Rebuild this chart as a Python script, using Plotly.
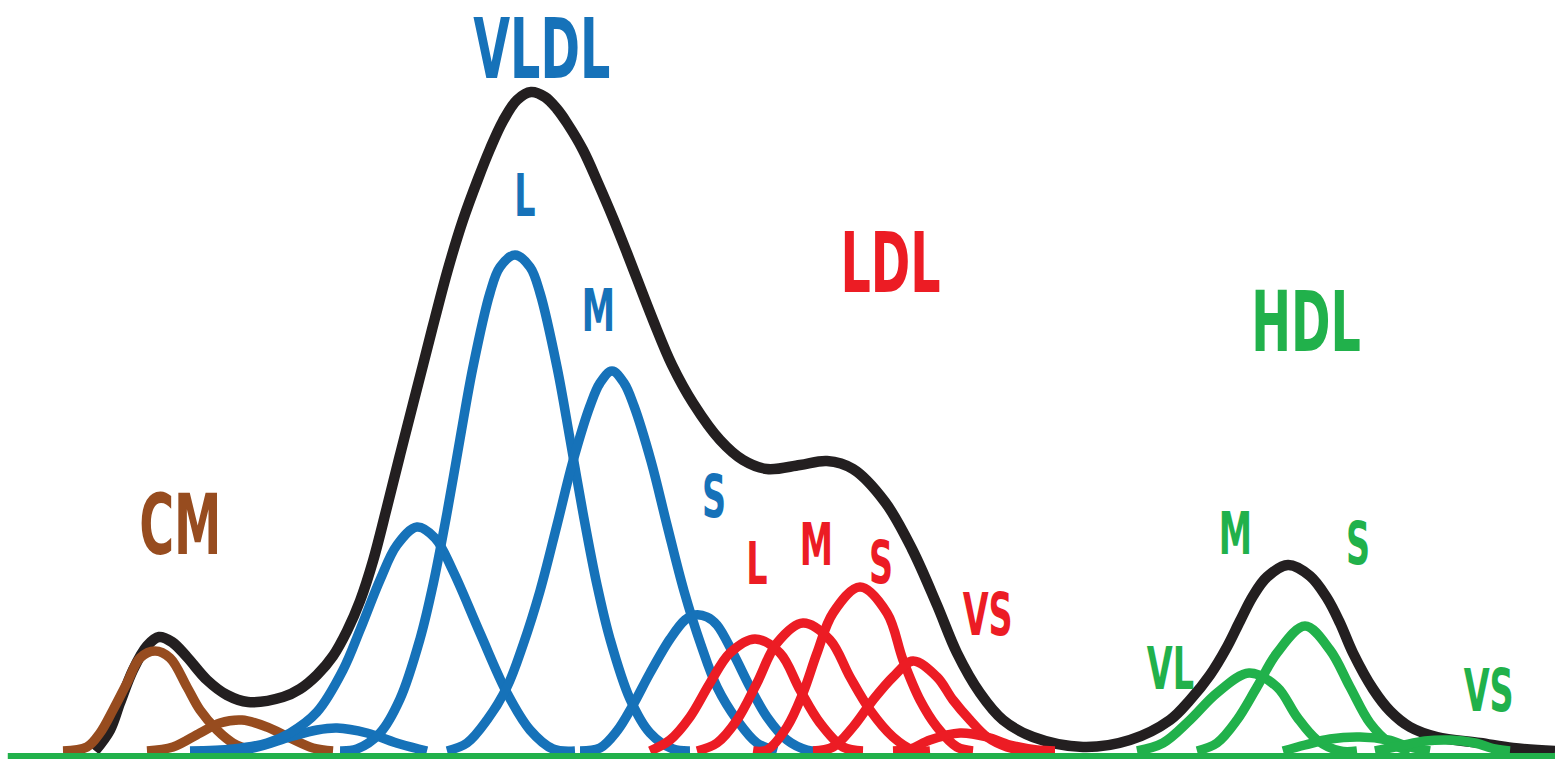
import plotly.graph_objects as go

# ---- data: elution position (x) and signal height (y) ----
total_x = [95, 110, 120, 133, 147, 159, 172, 187, 207, 227, 248, 283, 300, 317, 333, 347, 360, 373, 387, 400,
           413, 423, 435, 448, 463, 478, 490, 503, 517, 531, 545, 557, 567, 583, 598, 613, 627, 653, 672, 693,
           720, 743, 767, 800, 827, 853, 885, 912, 937, 957, 980, 1003, 1033, 1083, 1130, 1170, 1190, 1210,
           1227, 1240, 1253, 1267, 1288, 1310, 1327, 1340, 1353, 1373, 1390, 1410, 1437, 1480, 1513, 1555]
total_y = [0, 21, 48, 81, 105, 114, 109, 94, 71, 56, 49, 54, 62, 76, 95, 120, 150, 190, 244, 296,
           347, 386, 433, 482, 531, 572, 602, 630, 651, 659, 654, 642, 628, 601, 568, 533, 498, 431, 386, 348,
           311, 291, 282, 286, 290, 282, 249, 202, 146, 98, 58, 31, 14, 4, 11, 31, 51, 76,
           104, 130, 155, 174, 186, 175, 153, 128, 98, 62, 40, 24, 14, 8, 3, 0]

cm1_x = [63, 87, 100, 113, 127, 140, 155, 170, 187, 200, 217, 233, 253]
cm1_y = [0, 4, 18, 41, 68, 93, 100, 93, 64, 41, 21, 8, 0]
cm2_x = [147, 173, 200, 220, 242, 267, 290, 313, 333]
cm2_y = [0, 4, 18, 28, 31, 24, 13, 3, 0]

vldl_vl_small_x = [200, 253, 290, 317, 337, 367, 400, 427]
vldl_vl_small_y = [0, 3, 14, 21, 23, 18, 7, 0]
vldl_vl_x = [190, 233, 267, 290, 317, 343, 360, 380, 397, 417, 435, 453, 480, 507, 530, 553, 575]
vldl_vl_y = [0, 2, 8, 18, 39, 81, 121, 171, 206, 224, 213, 180, 118, 58, 21, 2, 0]
vldl_l_x = [340, 357, 380, 400, 420, 433, 447, 460, 473, 490, 500, 515, 530, 540, 557, 570, 583, 597,
            610, 630, 650, 673, 690]
vldl_l_y = [0, 2, 18, 52, 112, 166, 238, 312, 384, 458, 484, 496, 484, 458, 384, 312, 238, 166,
            112, 52, 18, 2, 0]
vldl_m_x = [447, 467, 487, 507, 523, 540, 557, 573, 590, 600, 612, 624, 634, 651, 667, 684, 701, 717,
            737, 757, 777]
vldl_m_y = [0, 8, 31, 64, 106, 160, 226, 290, 345, 368, 380, 368, 345, 290, 226, 160, 106, 64,
            31, 8, 0]
vldl_s_x = [580, 600, 617, 633, 650, 670, 685, 695, 707, 717, 733, 750, 767, 787, 807, 820]
vldl_s_y = [0, 3, 20, 46, 78, 112, 131, 136, 134, 126, 98, 64, 34, 11, 1, 0]

ldl_l_x = [650, 670, 690, 710, 730, 755, 780, 800, 820, 843, 863]
ldl_l_y = [0, 11, 34, 68, 98, 112, 98, 61, 28, 4, 0]
ldl_m_x = [697, 717, 737, 757, 777, 803, 830, 850, 870, 893, 913, 930]
ldl_m_y = [0, 8, 31, 68, 108, 128, 111, 74, 41, 14, 1, 0]
ldl_s_x = [753, 767, 787, 803, 817, 833, 860, 887, 903, 920, 937, 957, 973]
ldl_s_y = [0, 1, 24, 58, 98, 138, 164, 138, 91, 51, 24, 4, 0]
ldl_vs_x = [813, 833, 853, 873, 893, 913, 937, 953, 970, 987, 1007, 1027]
ldl_vs_y = [0, 4, 24, 51, 74, 90, 74, 51, 31, 14, 4, 0]
ldl_vs2_x = [893, 910, 930, 960, 987, 1010, 1037, 1055]
ldl_vs2_y = [0, 2, 11, 18, 14, 6, 1, 0]

hdl_vl_x = [1137, 1163, 1190, 1217, 1249, 1277, 1297, 1317, 1340, 1357]
hdl_vl_y = [0, 8, 31, 58, 78, 64, 34, 11, 0, 0]
hdl_m_x = [1197, 1217, 1237, 1257, 1277, 1305, 1330, 1350, 1370, 1390, 1410]
hdl_m_y = [0, 8, 31, 64, 98, 125, 101, 64, 28, 8, 0]
hdl_s_x = [1283, 1305, 1330, 1360, 1388, 1410, 1430]
hdl_s_y = [0, 6, 12, 14, 11, 4, 0]
hdl_vs_x = [1375, 1400, 1425, 1450, 1475, 1495, 1510]
hdl_vs_y = [0, 5, 10, 11, 8, 2, 0]

# ---- labels ----
label_text = ["VLDL", "L", "M", "S", "LDL", "L", "M", "S", "VS", "CM", "HDL", "VL", "M", "S", "VS"]
label_x = [542, 525, 598, 714, 890, 757, 816, 881, 987, 180, 1306, 1170, 1235, 1358, 1488]
label_y = [702, 556, 441, 255, 488, 188, 207, 189, 137, 226, 429, 83, 218, 208, 61]
label_group = ["vldl", "vldl", "vldl", "vldl", "ldl", "ldl", "ldl", "ldl", "ldl", "cm", "hdl", "hdl", "hdl", "hdl", "hdl"]
label_big = [True, False, False, False, True, False, False, False, False, True, True, False, False, False, False]

# ---- styles ----
COLORS = {"total": "#231f20", "cm": "#974c1f", "vldl": "#1672b9", "ldl": "#ec1c24", "hdl": "#21b14b"}
FONT = "DejaVu Sans Condensed, Liberation Sans Narrow, sans-serif"
SMOOTH = 1.0
TEXT_SQUEEZE = 0.63   # condensed lettering, as in the original artwork

fig = go.Figure()


def add_curve(x, y, group, width=9.5):
    fig.add_trace(go.Scatter(x=x, y=y, mode="lines",
                             line=dict(color=COLORS[group], width=width, shape="spline", smoothing=SMOOTH),
                             hoverinfo="skip", showlegend=False))


add_curve(total_x, total_y, "total", width=10.5)
for xs, ys in [(cm1_x, cm1_y), (cm2_x, cm2_y)]:
    add_curve(xs, ys, "cm")
for xs, ys in [(vldl_vl_small_x, vldl_vl_small_y), (vldl_vl_x, vldl_vl_y), (vldl_l_x, vldl_l_y),
               (vldl_m_x, vldl_m_y), (vldl_s_x, vldl_s_y)]:
    add_curve(xs, ys, "vldl")
for xs, ys in [(ldl_l_x, ldl_l_y), (ldl_m_x, ldl_m_y), (ldl_s_x, ldl_s_y), (ldl_vs_x, ldl_vs_y),
               (ldl_vs2_x, ldl_vs2_y)]:
    add_curve(xs, ys, "ldl")
for xs, ys in [(hdl_vl_x, hdl_vl_y), (hdl_m_x, hdl_m_y), (hdl_s_x, hdl_s_y), (hdl_vs_x, hdl_vs_y)]:
    add_curve(xs, ys, "hdl")

for t, x, y, g, big in zip(label_text, label_x, label_y, label_group, label_big):
    fig.add_annotation(x=x, y=y, text=t, showarrow=False, xanchor="center", yanchor="middle",
                       font=dict(family=FONT, size=84 if big else 59, color=COLORS[g], weight="bold"))

# green baseline under the profile
fig.add_shape(type="line", xref="paper", x0=0.005, x1=1, yref="y", y0=-5, y1=-5,
              line=dict(color=COLORS["hdl"], width=6), layer="above")

fig.update_layout(width=1555, height=759, margin=dict(l=0, r=0, t=0, b=0),
                  paper_bgcolor="white", plot_bgcolor="white",
                  xaxis=dict(range=[0, 1555], visible=False, fixedrange=True),
                  yaxis=dict(range=[-8, 751], visible=False, fixedrange=True))

post = (
    "document.body.style.margin='0';document.body.style.overflow='hidden';"
    "var gd=document.getElementById('{plot_id}');"
    "gd.querySelectorAll('text.annotation-text').forEach(function(t){"
    "var w=t.getComputedTextLength();"
    "t.setAttribute('textLength',(w*%s).toFixed(1));"
    "t.setAttribute('lengthAdjust','spacingAndGlyphs');});" % TEXT_SQUEEZE
)

fig.write_html("out.html", config={"displayModeBar": False, "staticPlot": True}, post_script=post)
